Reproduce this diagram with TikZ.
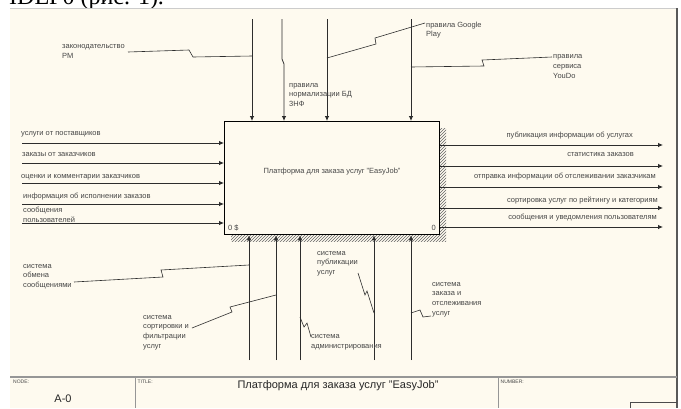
\documentclass[tikz,border=0pt]{standalone}
\usepackage{fontspec}
\setmainfont{Liberation Sans}
\newfontfamily\capserif{Liberation Serif}
\usetikzlibrary{arrows.meta,patterns}
\definecolor{paper}{RGB}{254,250,239}
\definecolor{ink}{RGB}{45,45,45}
\definecolor{txt}{RGB}{70,70,70}
\definecolor{rule}{RGB}{150,150,150}

\begin{document}
\begin{tikzpicture}[x=1pt,y=-1pt,
  lbl/.style={font=\fontsize{7.5}{9.6}\selectfont, text=txt, inner sep=0pt, align=left, anchor=west},
  rlbl/.style={lbl, align=right, anchor=east},
  hdr/.style={font=\fontsize{5}{6}\selectfont, text=txt, inner sep=0pt, anchor=north west},
  flow/.style={draw=ink, line width=0.8pt, -{Latex[length=5pt,width=4.5pt]}},
  lead/.style={draw=ink, line width=0.6pt},
]
\useasboundingbox (0,0) rectangle (681,408);

% tail of the caption line above the sheet
\begin{scope}
  \clip (0,0) rectangle (681,8.5);
  \node[anchor=base west, inner sep=0pt, font=\capserif\fontsize{24}{24}\selectfont] (caption) at (9,4) {IDEF0 (рис. 1).};
\end{scope}

% sheet
\fill[paper] (10,8.5) rectangle (677,408);
\draw[gray!40, line width=0.8pt] (10,8.5) -- (677,8.5);
\draw[gray!70!black, line width=1.2pt] (677,8) -- (677,408);

% title block
\draw[rule, line width=1.2pt] (10,377) -- (677,377);
\draw[rule, line width=0.8pt] (135,377) -- (135,408);
\draw[rule, line width=0.8pt] (498,377) -- (498,408);
\draw[gray!60!black, line width=0.6pt] (630,408) |- (677,402);
\node[hdr] (nodehdr) at (13,379.5) {NODE:};
\node[hdr] (titlehdr) at (137.5,379.5) {TITLE:};
\node[hdr] (numhdr) at (500.5,379.5) {NUMBER:};
\node[inner sep=0pt, font=\fontsize{11}{13}\selectfont, text=black!85] (nodeid) at (63,399) {A-0};
\node[inner sep=0pt, font=\fontsize{11}{13}\selectfont, text=black!85] (title) at (338,386) {Платформа для заказа услуг "EasyJob"};

% activity box with its hatched shadow
\fill[pattern=north east lines, pattern color=gray!80!black] (231,128) rectangle (446,241);
\node[draw=black, line width=1.3pt, fill=paper, minimum width=215pt, minimum height=113pt,
      anchor=north west, inner sep=0pt] (box) at (224,121) {};
\node[lbl, anchor=center] (boxtext) at (332,172) {Платформа для заказа услуг "EasyJob"};
\node[lbl] (boxcost) at (228,228) {0 \$};
\node[lbl, anchor=east] (boxnum) at (436,228) {0};

% inputs
\foreach \n/\y in {1/143,2/163,3/183,4/204,5/223}{
  \coordinate (i\n) at (22,\y);
  \draw[flow] (i\n) -- (i\n -| box.west);
}
\node[lbl] (in1) at (21,134) {услуги от поставщиков};
\node[lbl] (in2) at (22,155) {заказы от заказчиков};
\node[lbl] (in3) at (21,177) {оценки и комментарии заказчиков};
\node[lbl] (in4) at (23,197) {информация об исполнении заказов};
\node[lbl] (in5) at (23,214.5) {сообщения\\пользователей};

% outputs
\foreach \n/\y in {1/145,2/166,3/187,4/208,5/227}{
  \coordinate (o\n) at (663,\y);
  \draw[flow] (o\n -| box.east) -- (o\n);
}
\node[rlbl] (out1) at (633,136) {публикация информации об услугах};
\node[rlbl] (out2) at (634,155) {статистика заказов};
\node[rlbl] (out3) at (656,177) {отправка информации об отслеживании заказчикам};
\node[rlbl] (out4) at (658,200) {сортировка услуг по рейтингу и категориям};
\node[rlbl] (out5) at (657,218) {сообщения и уведомления пользователям};

% controls
\coordinate (c1) at (252,19);
\coordinate (c2) at (282,19);
\coordinate (c2a) at (282,59);
\coordinate (c2b) at (284,64);
\coordinate (c3) at (327,19);
\coordinate (c4) at (411,19);
\draw[flow] (c1) -- (c1 |- box.north);
\draw[flow] (c2) -- (c2a) to[out=-90,in=90] (c2b) -- (c2b |- box.north);
\draw[flow] (c3) -- (c3 |- box.north);
\draw[flow] (c4) -- (c4 |- box.north);

\node[lbl] (lawlbl) at (62,51.5) {законодательство\\РМ};
\node[lbl] (normlbl) at (289,95) {правила\\нормализации БД\\3НФ};
\node[lbl] (gplbl) at (426,30) {правила Google\\Play};
\node[lbl] (youdolbl) at (553,66.5) {правила\\сервиса\\YouDo};

\coordinate (lawend) at (c1 |- 0,56);
\coordinate (gpend) at (c3 |- 0,58);
\coordinate (youdoend) at (c4 |- 0,67);
\draw[lead] (128,52) -- (189,50) -- (193,57) -- (lawend);
\draw[lead] (gpend) -- (376,44) -- (375,38) -- (425,23);
\draw[lead] (youdoend) -- (484,66) -- (482,60) -- (552,57);

% mechanisms
\foreach \n/\x in {1/249,2/276,3/300,4/374,5/411}{
  \coordinate (m\n) at (\x,360);
  \draw[flow] (m\n) -- (m\n |- box.south);
}
\node[lbl] (msglbl) at (23,276.5) {система\\обмена\\сообщениями};
\node[lbl] (sortlbl) at (143,332.5) {система\\сортировки и\\фильтрации\\услуг};
\node[lbl] (adminlbl) at (311,342) {система\\администрирования};
\node[lbl] (publbl) at (317,263.5) {система\\публикации\\услуг};
\node[lbl] (orderlbl) at (432,299.5) {система\\заказа и\\отслеживания\\услуг};

\coordinate (msgend) at (m1 |- 0,265);
\coordinate (sortend) at (m2 |- 0,295);
\coordinate (adminend) at (m3 |- 0,317);
\coordinate (pubend) at (m4 |- 0,313);
\coordinate (orderend) at (m5 |- 0,313);
\draw[lead] (74,282) -- (163,277) -- (161,270) -- (msgend);
\draw[lead] (192,328) -- (232,312) -- (230,307) -- (sortend);
\draw[lead] (adminend) -- (304,327) -- (307,323) -- (311,337);
\draw[lead] (358,273) -- (365,295) -- (367,291) -- (pubend);
\draw[lead] (orderend) -- (420,310) -- (423,317) -- (431,316);
\end{tikzpicture}
\end{document}
